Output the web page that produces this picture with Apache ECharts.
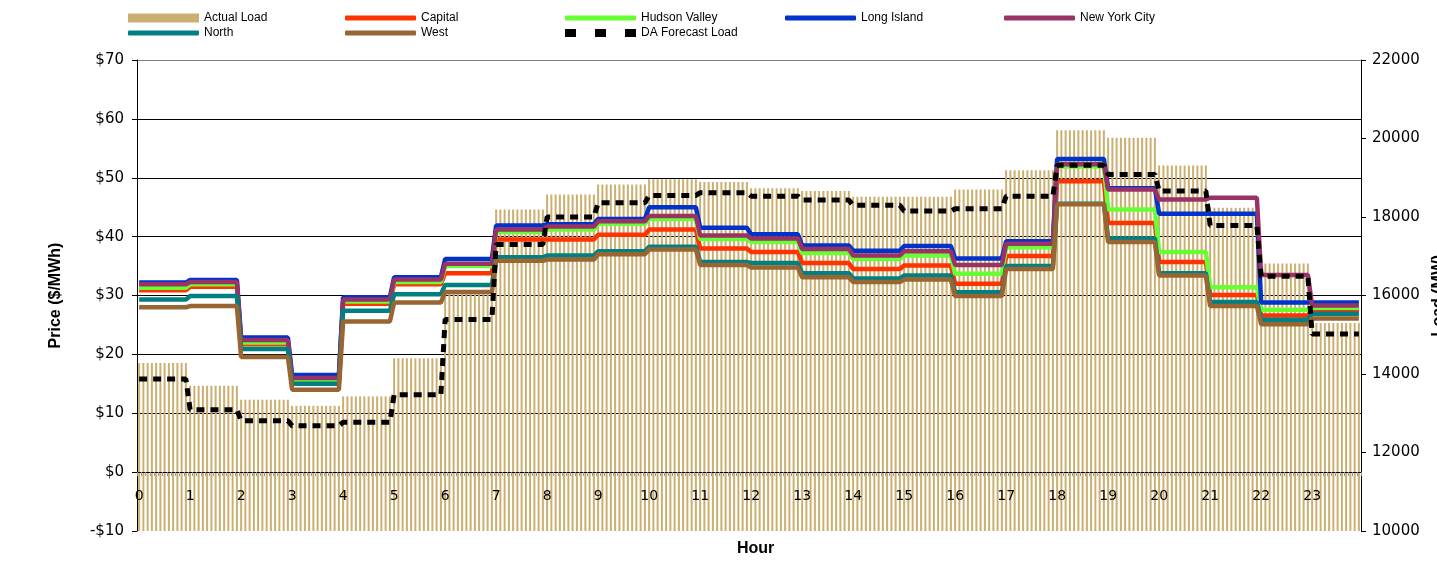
<!DOCTYPE html>
<html><head><meta charset="utf-8">
<script src="https://cdn.jsdelivr.net/npm/echarts@6/dist/echarts.min.js"></script>
<style>html,body{margin:0;padding:0;background:#fff}#c{width:1437px;height:561px}</style>
</head><body><div id="c"></div>
<script>
// ---- data (hourly values, each hour shown as twelve 5-minute intervals) ----
const hours = ['0','1','2','3','4','5','6','7','8','9','10','11','12','13','14','15','16','17','18','19','20','21','22','23'];
const minutes = ['00','05','10','15','20','25','30','35','40','45','50','55'];
const actualLoad = [14280,13700,13345,13190,13430,14400,16050,18190,18575,18830,18960,18890,18730,18660,18515,18515,18700,19190,20210,20020,19315,18235,16815,15300];
const daForecastLoad = [13870,13090,12810,12680,12770,13470,15390,17300,18000,18360,18550,18620,18530,18430,18300,18150,18210,18530,19320,19085,18660,17785,16490,15020];
const capital = [30.9,31.5,21.7,15.4,28.6,31.9,33.8,39.5,39.5,40.3,41.2,38.0,37.4,35.5,34.5,35.1,32.0,36.7,49.4,42.3,35.7,30.1,26.6,27.4];
const hudsonValley = [31.3,31.9,22.0,15.7,29.0,32.3,35.0,40.8,41.2,42.2,43.0,39.6,39.1,37.2,36.2,36.8,33.7,38.2,51.9,44.6,37.4,31.4,27.6,27.9];
const longIsland = [32.2,32.65,22.85,16.5,29.7,33.1,36.2,41.9,42.1,43.0,45.0,41.5,40.4,38.5,37.6,38.4,36.3,39.2,53.2,48.2,43.9,43.9,28.8,28.8];
const newYorkCity = [31.9,32.3,22.45,16.0,29.3,32.7,35.4,41.2,41.7,42.6,43.5,40.2,39.7,37.9,36.8,37.5,35.2,38.8,52.3,48.0,46.3,46.6,33.5,28.3];
const north = [29.3,29.9,20.9,15.0,27.4,30.2,31.8,36.5,36.8,37.5,38.3,35.7,35.5,33.8,32.9,33.4,30.55,35.0,45.6,39.7,33.8,28.9,25.9,26.9];
const west = [28.0,28.2,19.55,14.0,25.6,28.8,30.6,35.9,36.1,37.0,37.8,35.2,34.75,33.1,32.3,32.7,29.9,34.5,45.5,39.1,33.4,28.2,25.1,26.1];

// ---- build 5-minute slots ----
const slots = [];
hours.forEach(h => minutes.forEach(m => slots.push(h + ':' + m)));
const perSlot = arr => arr.flatMap(v => minutes.map(() => v));

const FONT = 'Liberation Sans, Arial, sans-serif';
const GRID_TOP = 60, GRID_BOTTOM = 30, GRID_H = 561 - GRID_TOP - GRID_BOTTOM;
const PRICE_MIN = -10, PRICE_MAX = 70;
// distance of the $0 level above the plot bottom (x axis drawn there)
const zeroOffset = GRID_H * (0 - PRICE_MIN) / (PRICE_MAX - PRICE_MIN);

const chart = echarts.init(document.getElementById('c'), null, {renderer: 'canvas'});

function lineSeries(name, data, color) {
  return {
    name, type: 'line', yAxisIndex: 0, data: perSlot(data), symbol: 'none', showSymbol: false,
    color, lineStyle: {color, width: 4.5}, animation: false
  };
}

const legendItems = [
  ['Actual Load', 128, 12, 'rect', 9], ['Capital', 345, 12, 'roundRect', 5], ['Hudson Valley', 565, 12, 'roundRect', 5],
  ['Long Island', 785, 12, 'roundRect', 5], ['New York City', 1004, 12, 'roundRect', 5],
  ['North', 128, 27, 'roundRect', 5], ['West', 345, 27, 'roundRect', 5],
  ['DA Forecast Load', 565, 27, 'path://M0,0h11v8h-11z M30,0h11v8h-11z M60,0h11v8h-11z', 8]
];

const option = {
  backgroundColor: '#fff',
  animation: false,
  grid: {left: 137, right: 76, top: GRID_TOP, bottom: GRID_BOTTOM, containLabel: false, outerBoundsMode: 'none'},
  legend: legendItems.map(([name, left, top, icon, h]) => ({
    data: [{name, icon}], left, top, padding: 0, itemGap: 0,
    itemWidth: 71, itemHeight: h, selectedMode: false,
    textStyle: {fontSize: 12, fontFamily: FONT, color: '#000'}
  })),
  xAxis: {
    type: 'category', data: slots, boundaryGap: true, position: 'bottom', offset: -zeroOffset, z: 10,
    axisLine: {show: true, onZero: false, lineStyle: {color: '#000', width: 1}},
    axisTick: {show: true, interval: 0, length: 4, lineStyle: {color: '#999'}},
    axisLabel: {interval: 11, formatter: v => v.split(':')[0], margin: 17, fontSize: 14, fontFamily: 'DejaVu Sans', color: '#000'},
    splitLine: {show: false}
  },
  yAxis: [
    {
      type: 'value', min: PRICE_MIN, max: PRICE_MAX, interval: 10, position: 'left',
      axisLine: {show: true, onZero: false, lineStyle: {color: '#000'}},
      axisTick: {show: true, length: 5, lineStyle: {color: '#000'}},
      axisLabel: {formatter: v => v < 0 ? '-$' + (-v) : '$' + v, fontSize: 15, fontFamily: 'DejaVu Sans', margin: 13, color: '#000'},
      splitLine: {show: true, lineStyle: {color: ['rgba(0,0,0,0)', '#000', '#000', '#000', '#000', '#000', '#000', '#000', '#808080'], width: 1}},
      name: 'Price ($/MWh)', nameLocation: 'middle', nameRotate: 90, nameGap: 73,
      nameTextStyle: {fontWeight: 'bold', fontSize: 16, fontFamily: FONT, color: '#000'}
    },
    {
      type: 'value', min: 10000, max: 22000, interval: 2000, position: 'right',
      axisLine: {show: true, onZero: false, lineStyle: {color: '#000'}},
      axisTick: {show: true, length: 5, lineStyle: {color: '#000'}},
      axisLabel: {formatter: v => String(v), fontSize: 15, fontFamily: 'DejaVu Sans', margin: 11, color: '#000'},
      splitLine: {show: false},
      name: 'Load (MW)', nameLocation: 'middle', nameRotate: 90, nameGap: 55,
      nameTextStyle: {fontWeight: 'bold', fontSize: 16, fontFamily: FONT, color: '#000'}
    }
  ],
  graphic: [{
    type: 'text', left: 737, top: 541,
    style: {text: 'Hour', fontSize: 16, fontWeight: 'bold', fontFamily: FONT, fill: '#000'}
  }],
  series: [
    {
      name: 'Actual Load', type: 'bar', yAxisIndex: 1, data: perSlot(actualLoad),
      barWidth: 2, color: '#CBAF70', itemStyle: {color: '#CBAF70'}, animation: false, clip: true
    },
    lineSeries('Capital', capital, '#FF3300'),
    lineSeries('Hudson Valley', hudsonValley, '#66FF33'),
    lineSeries('Long Island', longIsland, '#0033CC'),
    lineSeries('New York City', newYorkCity, '#993366'),
    lineSeries('North', north, '#008080'),
    lineSeries('West', west, '#996633'),
    {
      name: 'DA Forecast Load', type: 'line', yAxisIndex: 1, data: perSlot(daForecastLoad), symbol: 'none', showSymbol: false,
      color: '#000', lineStyle: {color: '#000', width: 5, type: [8, 6]}, animation: false
    }
  ]
};
chart.setOption(option);
</script>
</body></html>
